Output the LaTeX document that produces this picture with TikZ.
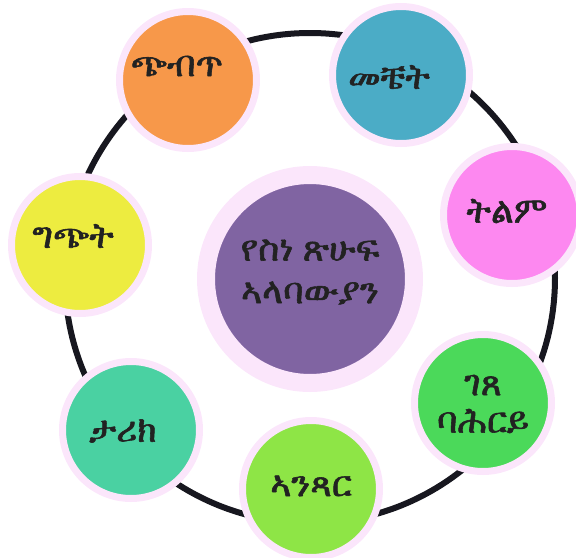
\documentclass[tikz,border=0pt]{standalone}
\usepackage{fontspec}
\IfFontExistsTF{FreeSerif}{\newfontfamily\ethfont[FakeBold=1.6]{FreeSerif}}{%
  \IfFontExistsTF{Abyssinica SIL}{\newfontfamily\ethfont[FakeBold=1.6]{Abyssinica SIL}}{%
    \newfontfamily\ethfont{DejaVu Sans}}}
\definecolor{ringC}{HTML}{17171F}
\definecolor{haloC}{HTML}{FBE6FB}
\definecolor{hubC}{HTML}{8064A2}
\definecolor{txtC}{HTML}{222222}
\definecolor{satOR}{HTML}{F7984A}
\definecolor{satTL}{HTML}{4BACC6}
\definecolor{satPK}{HTML}{FD88F0}
\definecolor{satYL}{HTML}{EDEC40}
\definecolor{satGR}{HTML}{4BD95A}
\definecolor{satLM}{HTML}{8EE546}
\definecolor{satSE}{HTML}{4AD1A2}

\begin{document}
\begin{tikzpicture}[x=0.75pt, y=-0.75pt,
  ring/.style={draw=ringC, line width=4.5pt},
  hub/.style={circle, draw=haloC, line width=13.5pt, minimum size=156pt,
              inner sep=0pt, fill=hubC},
  bub/.style={circle, draw=haloC, line width=5.25pt, minimum size=102.75pt,
              inner sep=0pt},
  lbl/.style={font=\ethfont\fontsize{27}{28}\selectfont, text=txtC, align=center}]
\useasboundingbox (0,0) rectangle (576,558);
% ring
\coordinate (ctr) at (310,278);
\draw[ring] (ctr) circle[radius=245];
% centre
\node[hub] (hub) at (310,279) {};
\node[lbl, font=\ethfont\fontsize{27}{32}\selectfont] (hub-t) at (310,272) {የስነ ጽሁፍ\\ኣላባውያን};
% satellites
\foreach \cx/\cy/\tx/\ty/\c/\n/\t in {
    188/80/177/66/satOR/chibt/ጭብጥ,
    401/75/389/77/satTL/mechet/መቼት,
    512/215/507/211/satPK/tilm/ትልም,
    80/245/73/236/satYL/gichit/ግጭት,
    483/403/483/404/satGR/getse/{ገጸ\\ባሕርይ},
    311/489/311/486/satLM/antsar/ኣንጻር,
    131/430/123/431/satSE/tarik/ታሪክ}
  {\node[bub, fill=\c] (\n) at (\cx,\cy) {};
   \node[lbl] (\n-t) at (\tx,\ty) {\t};}
\end{tikzpicture}
\end{document}
